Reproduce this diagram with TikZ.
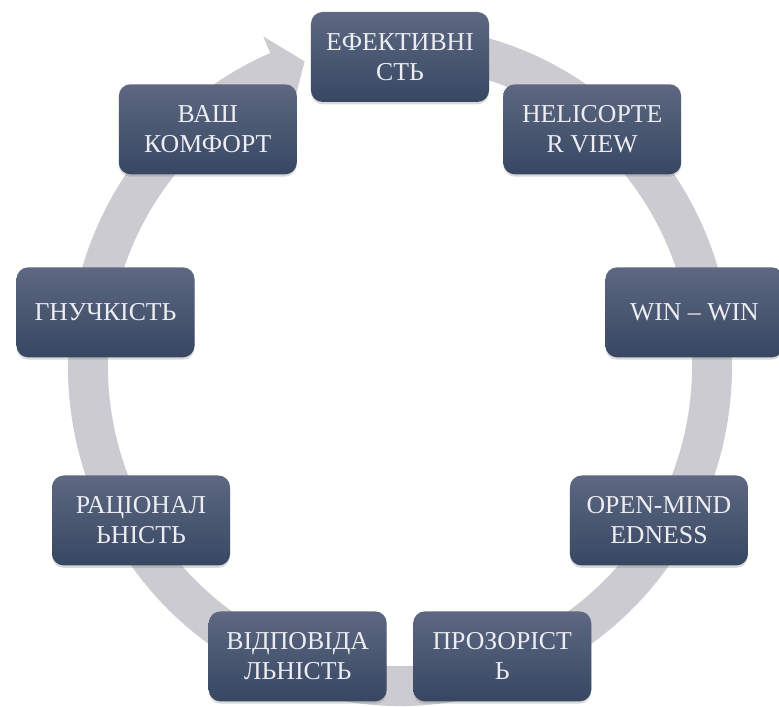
\documentclass[tikz,border=0pt]{standalone}
\usepackage{fontspec}
\setmainfont{Liberation Serif}
\usepackage{tikz}
\usetikzlibrary{shadows}
\definecolor{ringgray}{RGB}{203,203,209}
\definecolor{boxtop}{RGB}{93,104,130}
\definecolor{boxbot}{RGB}{55,71,98}
\definecolor{boxtext}{RGB}{236,236,241}

\begin{document}
\begin{tikzpicture}[x=0.03cm,y=0.03cm,
	cbox/.style={rounded corners=10pt,top color=boxtop,bottom color=boxbot,
		minimum width=5.34cm,minimum height=2.7cm,inner sep=0pt,align=center,
		text=boxtext,font=\fontsize{22}{25.5}\selectfont,
		drop shadow={shadow xshift=0pt,shadow yshift=-2pt,opacity=0.3}}]
	\useasboundingbox (-400,-341) rectangle (379,366);
	\fill[ringgray] (80:332 and 340) arc[start angle=80,end angle=-247,x radius=332,y radius=340] -- (-247:350 and 358) -- (-252.2:312 and 320) -- (-247:274 and 282) -- (-247:292 and 300) arc[start angle=-247,end angle=80,x radius=292,y radius=300] -- cycle;
	\foreach \ang/\nm/\txt in {90/eff/{ЕФЕКТИВНІ\\СТЬ},50/heli/{HELICOPTE\\R VIEW},10/win/{WIN – WIN},-30/open/{OPEN-MIND\\EDNESS},-70/proz/{ПРОЗОРІСТ\\Ь},-110/vidp/{ВІДПОВІДА\\ЛЬНІСТЬ},-150/rats/{РАЦІОНАЛ\\ЬНІСТЬ},170/hnuch/{ГНУЧКІСТЬ},130/komf/{ВАШ\\КОМФОРТ}}
		\node[cbox] (\nm) at (\ang:299 and 309) {\txt};
\end{tikzpicture}
\end{document}
